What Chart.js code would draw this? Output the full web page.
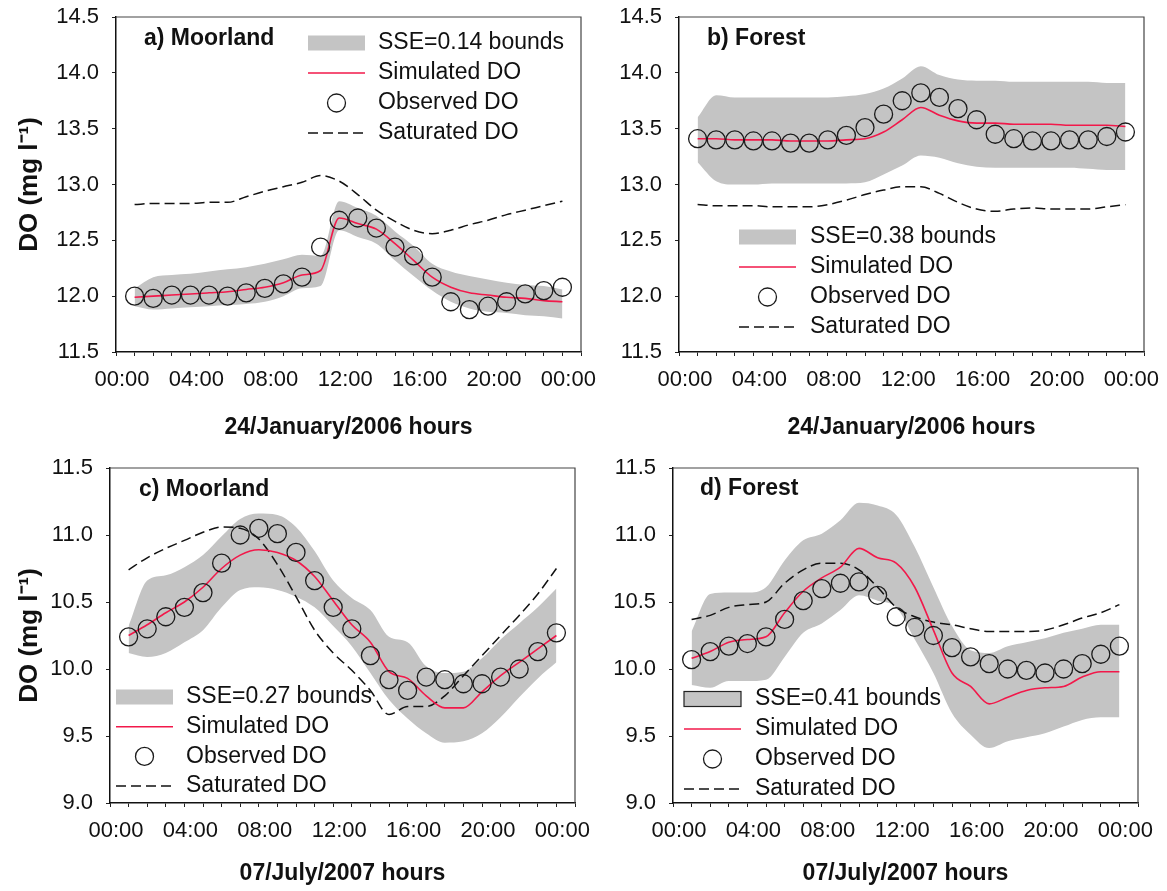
<!DOCTYPE html>
<html>
<head>
<meta charset="utf-8">
<script src="https://cdn.jsdelivr.net/npm/chart.js@4.4.1/dist/chart.umd.min.js"></script>
<style>
body { margin: 0; background: #fff; }
#wrap { position: relative; width: 1167px; height: 891px; background: #fff; }
#wrap canvas { position: absolute; left: 0; top: 0; }
</style>
</head>
<body>
<div id="wrap">
<canvas id="chart-a" width="1167" height="891"></canvas>
<canvas id="chart-b" width="1167" height="891"></canvas>
<canvas id="chart-c" width="1167" height="891"></canvas>
<canvas id="chart-d" width="1167" height="891"></canvas>
</div>
<script>
Chart.defaults.font.family = '"Liberation Sans", Arial, Helvetica, sans-serif';
Chart.defaults.color = '#111';

// hourly samples, 01:00 .. 24:00
var hours = [1, 2, 3, 4, 5, 6, 7, 8, 9, 10, 11, 12, 13, 14, 15, 16, 17, 18, 19, 20, 21, 22, 23, 24];
var hourTicks = [0, 4, 8, 12, 16, 20, 24];
var hourLabels = ['00:00', '04:00', '08:00', '12:00', '16:00', '20:00', '00:00'];
var janRange = [11.5, 14.5];
var julRange = [9.0, 11.5];

// a) Moorland, 24 January 2006
var moorJanObserved = [12.00, 11.98, 12.01, 12.01, 12.01, 12.00, 12.03, 12.07, 12.11, 12.17, 12.44, 12.68, 12.70, 12.61, 12.44, 12.36, 12.17, 11.95, 11.88, 11.91, 11.95, 12.02, 12.05, 12.08];
var moorJanSimulated = [11.99, 12.00, 12.01, 12.02, 12.03, 12.04, 12.06, 12.08, 12.12, 12.19, 12.23, 12.70, 12.65, 12.60, 12.47, 12.32, 12.17, 12.08, 12.03, 12.01, 11.99, 11.98, 11.96, 11.95];
var moorJanSaturated = [12.82, 12.83, 12.83, 12.83, 12.84, 12.84, 12.89, 12.94, 12.98, 13.02, 13.08, 13.03, 12.91, 12.77, 12.67, 12.59, 12.56, 12.59, 12.64, 12.68, 12.73, 12.77, 12.81, 12.85];
var moorJanUpper = [12.07, 12.17, 12.19, 12.20, 12.22, 12.24, 12.26, 12.29, 12.33, 12.37, 12.36, 12.85, 12.79, 12.72, 12.58, 12.45, 12.29, 12.22, 12.18, 12.15, 12.12, 12.10, 12.09, 12.06];
var moorJanLower = [11.91, 11.88, 11.89, 11.90, 11.91, 11.92, 11.93, 11.95, 12.00, 12.07, 12.09, 12.59, 12.53, 12.47, 12.32, 12.18, 12.05, 11.95, 11.89, 11.86, 11.85, 11.83, 11.82, 11.80];

// b) Forest, 24 January 2006
var forJanObserved = [13.41, 13.40, 13.40, 13.39, 13.39, 13.37, 13.37, 13.40, 13.44, 13.51, 13.63, 13.75, 13.82, 13.78, 13.68, 13.58, 13.45, 13.41, 13.39, 13.39, 13.40, 13.40, 13.43, 13.47];
var forJanSimulated = [13.41, 13.41, 13.40, 13.40, 13.40, 13.39, 13.39, 13.39, 13.40, 13.41, 13.47, 13.58, 13.69, 13.62, 13.57, 13.55, 13.55, 13.54, 13.54, 13.54, 13.53, 13.53, 13.53, 13.52];
var forJanSaturated = [12.82, 12.81, 12.81, 12.81, 12.80, 12.80, 12.80, 12.82, 12.86, 12.91, 12.95, 12.98, 12.98, 12.92, 12.84, 12.78, 12.76, 12.78, 12.79, 12.78, 12.78, 12.78, 12.80, 12.82];
var forJanUpper = [13.60, 13.80, 13.78, 13.78, 13.78, 13.78, 13.78, 13.78, 13.79, 13.81, 13.86, 13.95, 14.06, 13.98, 13.94, 13.93, 13.93, 13.92, 13.92, 13.92, 13.92, 13.92, 13.91, 13.91];
var forJanLower = [13.20, 13.03, 13.00, 13.00, 13.01, 13.01, 13.01, 13.01, 13.01, 13.02, 13.09, 13.17, 13.26, 13.24, 13.19, 13.16, 13.15, 13.15, 13.15, 13.15, 13.15, 13.14, 13.13, 13.13];

// c) Moorland, 07 July 2007
var moorJulObserved = [10.24, 10.30, 10.39, 10.46, 10.57, 10.79, 11.00, 11.05, 11.01, 10.87, 10.66, 10.46, 10.30, 10.10, 9.92, 9.84, 9.94, 9.92, 9.89, 9.89, 9.94, 10.00, 10.13, 10.27];
var moorJulSimulated = [10.25, 10.33, 10.42, 10.50, 10.61, 10.75, 10.85, 10.89, 10.87, 10.81, 10.69, 10.51, 10.33, 10.20, 9.98, 9.93, 9.80, 9.71, 9.71, 9.83, 9.95, 10.05, 10.15, 10.25];
var moorJulSaturated = [10.74, 10.83, 10.90, 10.96, 11.02, 11.06, 11.05, 10.97, 10.78, 10.54, 10.29, 10.12, 9.99, 9.84, 9.66, 9.72, 9.72, 9.80, 9.95, 10.10, 10.25, 10.40, 10.56, 10.75];
var moorJulUpper = [10.32, 10.66, 10.70, 10.76, 10.85, 10.99, 11.12, 11.16, 11.15, 11.06, 10.88, 10.66, 10.53, 10.44, 10.24, 10.20, 10.02, 9.97, 9.98, 10.08, 10.22, 10.34, 10.46, 10.60];
var moorJulLower = [10.12, 10.09, 10.12, 10.20, 10.29, 10.46, 10.59, 10.61, 10.59, 10.54, 10.46, 10.32, 10.17, 9.97, 9.77, 9.63, 9.52, 9.45, 9.46, 9.52, 9.64, 9.79, 9.93, 10.05];

// d) Forest, 07 July 2007
var forJulObserved = [10.07, 10.13, 10.17, 10.19, 10.24, 10.37, 10.51, 10.60, 10.64, 10.65, 10.55, 10.39, 10.31, 10.25, 10.16, 10.09, 10.04, 10.00, 9.99, 9.97, 10.00, 10.04, 10.11, 10.17];
var forJulSimulated = [10.08, 10.13, 10.20, 10.22, 10.24, 10.42, 10.58, 10.68, 10.76, 10.90, 10.83, 10.79, 10.61, 10.29, 9.97, 9.87, 9.74, 9.79, 9.84, 9.86, 9.87, 9.94, 9.98, 9.98];
var forJulSaturated = [10.37, 10.40, 10.46, 10.48, 10.50, 10.64, 10.74, 10.79, 10.79, 10.74, 10.61, 10.46, 10.39, 10.35, 10.33, 10.30, 10.28, 10.28, 10.28, 10.29, 10.33, 10.38, 10.42, 10.48];
var forJulUpper = [10.28, 10.56, 10.57, 10.57, 10.61, 10.81, 10.96, 11.01, 11.11, 11.24, 11.22, 11.15, 10.91, 10.61, 10.32, 10.14, 10.12, 10.17, 10.20, 10.23, 10.27, 10.30, 10.33, 10.33];
var forJulLower = [9.88, 9.86, 9.91, 9.91, 9.92, 10.09, 10.27, 10.34, 10.44, 10.55, 10.51, 10.46, 10.22, 9.97, 9.67, 9.51, 9.41, 9.46, 9.49, 9.52, 9.57, 9.62, 9.64, 9.64];

var BAND = '#c4c4c4';
var RED = '#f2184a';
var INK = '#111';
var CIRCLE_R = 9;

function pts(vals) {
    return vals.map(function (v, i) { return {x: hours[i], y: v}; });
}

function buildDatasets(obs, sim, sat, upper, lower, sseLabel) {
    return [
        {label: 'lower bound', data: pts(lower), borderWidth: 0, borderColor: 'rgba(0,0,0,0)',
         pointRadius: 0, fill: false, cubicInterpolationMode: 'monotone', order: 6},
        {label: sseLabel, data: pts(upper), borderWidth: 0, borderColor: 'rgba(0,0,0,0)',
         pointRadius: 0, fill: '-1', backgroundColor: BAND, cubicInterpolationMode: 'monotone',
         order: 5, legendKind: 'band', legendRank: 0},
        {label: 'Saturated DO', data: pts(sat), borderColor: INK, borderWidth: 1.5, borderDash: [10, 5],
         pointRadius: 0, fill: false, cubicInterpolationMode: 'monotone', order: 3, legendKind: 'dash', legendRank: 3},
        {label: 'Simulated DO', data: pts(sim), borderColor: RED, borderWidth: 1.6,
         pointRadius: 0, fill: false, cubicInterpolationMode: 'monotone', order: 2, legendKind: 'line', legendRank: 1},
        {label: 'Observed DO', data: pts(obs), showLine: false, pointRadius: CIRCLE_R, pointBorderWidth: 1.3,
         pointBorderColor: '#1a1a1a', pointBackgroundColor: 'rgba(0,0,0,0)', borderColor: '#1a1a1a',
         backgroundColor: 'rgba(0,0,0,0)', order: 1, legendKind: 'circle', legendRank: 2}
    ];
}

// frame, panel letter and in-plot legend
var panelDecor = {
    id: 'panelDecor',
    afterDraw: function (chart, args, opts) {
        var ctx = chart.ctx, a = chart.chartArea;
        ctx.save();
        ctx.strokeStyle = '#444';
        ctx.lineWidth = 1.2;
        ctx.beginPath();
        ctx.moveTo(a.left, a.top);
        ctx.lineTo(a.right, a.top);
        ctx.lineTo(a.right, a.bottom);
        ctx.stroke();

        ctx.fillStyle = INK;
        ctx.textBaseline = 'middle';
        ctx.textAlign = 'left';
        ctx.font = 'bold 23px "Liberation Sans", Arial, sans-serif';
        ctx.fillText(opts.title, opts.titleX, opts.titleY);

        var items = chart.data.datasets.filter(function (d) { return d.legendKind; });
        items.sort(function (p, q) { return p.legendRank - q.legendRank; });
        ctx.font = '23px "Liberation Sans", Arial, sans-serif';
        items.forEach(function (d, i) {
            var y = opts.legendY + i * opts.legendStep;
            var x = opts.legendX, w = 57;
            if (d.legendKind === 'band') {
                ctx.fillStyle = BAND;
                ctx.fillRect(x, y - 7.5, w, 15);
                if (opts.swatchBorder) {
                    ctx.strokeStyle = '#222';
                    ctx.lineWidth = 1.2;
                    ctx.strokeRect(x, y - 7.5, w, 15);
                }
            } else if (d.legendKind === 'line') {
                ctx.strokeStyle = RED;
                ctx.lineWidth = 1.6;
                ctx.beginPath(); ctx.moveTo(x, y); ctx.lineTo(x + w, y); ctx.stroke();
            } else if (d.legendKind === 'circle') {
                ctx.strokeStyle = '#1a1a1a';
                ctx.lineWidth = 1.3;
                ctx.beginPath(); ctx.arc(x + w / 2, y, CIRCLE_R, 0, Math.PI * 2); ctx.stroke();
            } else if (d.legendKind === 'dash') {
                ctx.strokeStyle = INK;
                ctx.lineWidth = 1.5;
                ctx.setLineDash([10, 5]);
                ctx.beginPath(); ctx.moveTo(x, y); ctx.lineTo(x + w - 2, y); ctx.stroke();
                ctx.setLineDash([]);
            }
            ctx.fillStyle = INK;
            ctx.fillText(d.label, opts.textX, y);
        });
        ctx.restore();
    }
};

var panels = [
    {id: 'chart-a', title: 'a) Moorland', titleX: 144, titleY: 39, xTitle: '24/January/2006 hours', yTitle: true,
     range: janRange, area: {l: 116, t: 17, r: 581, b: 352}, xh: 93,
     legendX: 308, textX: 378, legendY: 43, legendStep: 30, swatchBorder: false,
     data: buildDatasets(moorJanObserved, moorJanSimulated, moorJanSaturated, moorJanUpper, moorJanLower, 'SSE=0.14 bounds')},
    {id: 'chart-b', title: 'b) Forest', titleX: 707, titleY: 39, xTitle: '24/January/2006 hours', yTitle: false,
     range: janRange, area: {l: 679, t: 17, r: 1144, b: 352}, xh: 93,
     legendX: 739, textX: 810, legendY: 237, legendStep: 30, swatchBorder: false,
     data: buildDatasets(forJanObserved, forJanSimulated, forJanSaturated, forJanUpper, forJanLower, 'SSE=0.38 bounds')},
    {id: 'chart-c', title: 'c) Moorland', titleX: 139, titleY: 490, xTitle: '07/July/2007 hours', yTitle: true,
     range: julRange, area: {l: 110, t: 468, r: 575, b: 803}, xh: 88,
     legendX: 116, textX: 186, legendY: 697, legendStep: 29.7, swatchBorder: false,
     data: buildDatasets(moorJulObserved, moorJulSimulated, moorJulSaturated, moorJulUpper, moorJulLower, 'SSE=0.27 bounds')},
    {id: 'chart-d', title: 'd) Forest', titleX: 700, titleY: 489, xTitle: '07/July/2007 hours', yTitle: false,
     range: julRange, area: {l: 673, t: 468, r: 1138, b: 803}, xh: 88,
     legendX: 684, textX: 755, legendY: 699, legendStep: 30, swatchBorder: true,
     data: buildDatasets(forJulObserved, forJulSimulated, forJulSaturated, forJulUpper, forJulLower, 'SSE=0.41 bounds')}
];

panels.forEach(function (p) {
    var yw = p.yTitle ? p.area.l : 80;
    var ctx = document.getElementById(p.id).getContext('2d');
    new Chart(ctx, {
        type: 'line',
        data: {datasets: p.data},
        plugins: [panelDecor],
        options: {
            responsive: false,
            animation: false,
            events: [],
            layout: {
                padding: {left: p.area.l - yw, top: p.area.t, right: 1167 - p.area.r, bottom: 891 - p.area.b - p.xh}
            },
            plugins: {
                legend: {display: false},
                tooltip: {enabled: false},
                panelDecor: {
                    title: p.title, titleX: p.titleX, titleY: p.titleY,
                    legendX: p.legendX, textX: p.textX, legendY: p.legendY,
                    legendStep: p.legendStep, swatchBorder: p.swatchBorder
                }
            },
            scales: {
                x: {
                    type: 'linear',
                    min: 0,
                    max: 25,
                    afterFit: function (s) {
                        s.height = p.xh;
                        s.paddingLeft = 0;
                        s.paddingRight = 0;
                    },
                    ticks: {
                        stepSize: 1, autoSkip: false, maxRotation: 0, minRotation: 0,
                        padding: 11, labelOffset: 6, color: INK, font: {size: 22},
                        callback: function (v) {
                            var k = hourTicks.indexOf(v);
                            return k < 0 ? '' : hourLabels[k];
                        }
                    },
                    grid: {drawOnChartArea: false, drawTicks: true, tickLength: 4, color: '#222'},
                    border: {display: true, color: INK, width: 1.5},
                    title: {display: true, text: p.xTitle, color: INK,
                            font: {size: 23, weight: 'bold'}, padding: {top: 0, bottom: 4}}
                },
                y: {
                    min: p.range[0],
                    max: p.range[1],
                    afterFit: function (s) {
                        s.width = yw;
                        s.paddingTop = 0;
                        s.paddingBottom = 0;
                    },
                    ticks: {
                        stepSize: 0.5, padding: 13, color: INK, font: {size: 22},
                        callback: function (v) { return v.toFixed(1); }
                    },
                    grid: {drawOnChartArea: false, drawTicks: true, tickLength: 4, color: '#222'},
                    border: {display: true, color: INK, width: 1.5},
                    title: {display: p.yTitle, text: 'DO (mg l\u207B\u00B9)', color: INK,
                            font: {size: 26, weight: 'bold'}, padding: {top: 14, bottom: 0}}
                }
            }
        }
    });
});
</script>
</body>
</html>
